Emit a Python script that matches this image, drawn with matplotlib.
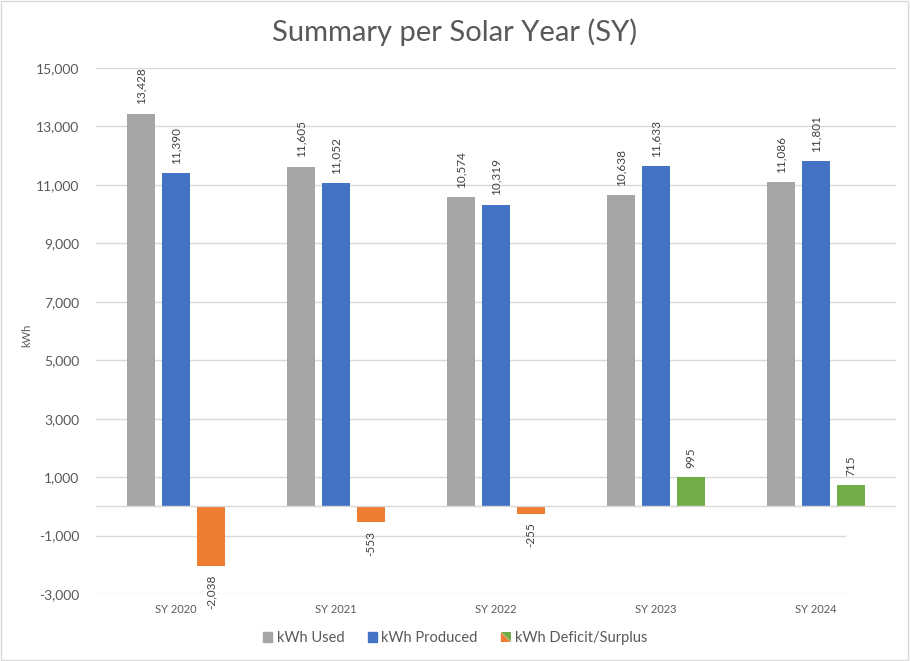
import numpy as np
import matplotlib
matplotlib.use("Agg")
import matplotlib.pyplot as plt
from matplotlib.patches import Polygon, Rectangle
from matplotlib.legend_handler import HandlerBase

plt.rcParams['font.family'] = ['Lato', 'DejaVu Sans']

years = ["SY 2020", "SY 2021", "SY 2022", "SY 2023", "SY 2024"]
used = [13428, 11605, 10574, 10638, 11086]
produced = [11390, 11052, 10319, 11633, 11801]
balance = [-2038, -553, -255, 995, 715]

GRAY = "#A5A5A5"
BLUE = "#4472C4"
ORANGE = "#ED7D31"
GREEN = "#70AD47"
TXT = "#595959"
GRID = "#D9D9D9"


class SplitHandler(HandlerBase):
    # legend square split diagonally: orange lower-left, green upper-right
    def create_artists(self, legend, orig_handle, xdescent, ydescent,
                       width, height, fontsize, trans):
        s = height
        x0 = width - s
        y0 = (height - s) / 2
        lo = Polygon([[x0, y0], [x0 + s, y0], [x0, y0 + s]], closed=True,
                     facecolor=ORANGE, edgecolor="none", transform=trans)
        hi = Polygon([[x0 + s, y0], [x0 + s, y0 + s], [x0, y0 + s]], closed=True,
                     facecolor=GREEN, edgecolor="none", transform=trans)
        return [lo, hi]


fig = plt.figure(figsize=(9.1, 6.61), dpi=100)
ax = fig.add_axes([96 / 910, 1 - 594 / 661, 800 / 910, 526 / 661])

x = np.arange(len(years))
w = 0.175
off = 0.219
bal_colors = [ORANGE if v < 0 else GREEN for v in balance]

b1 = ax.bar(x - off, used, w, color=GRAY, zorder=3)
b2 = ax.bar(x, produced, w, color=BLUE, zorder=3)
b3 = ax.bar(x + off, balance, w, color=bal_colors, zorder=3)

for bars, vals in [(b1, used), (b2, produced), (b3, balance)]:
    for r, v in zip(bars, vals):
        cx = r.get_x() + r.get_width() / 2
        if v >= 0:
            ax.annotate(f"{v:,}", (cx, v), xytext=(0, 7), textcoords="offset points",
                        rotation=90, ha="center", va="bottom", fontsize=8.5, color="#404040")
        else:
            ax.annotate(f"{v:,}", (cx, v), xytext=(0, -6), textcoords="offset points",
                        rotation=90, ha="center", va="top", fontsize=8.5, color="#404040")

ax.set_xlim(-0.5, len(years) - 0.5)
ax.set_ylim(-3000, 15000)
yt = np.arange(-3000, 15001, 2000)
ax.set_yticks(yt)
ax.set_yticklabels([f"{t:,}" for t in yt])
for t in yt:
    xm = 1.0 if t > 0 else 0.936
    ax.axhline(t, xmin=0, xmax=xm, color=GRID, lw=1, zorder=1)
ax.axhline(0, color=GRID, lw=1, zorder=4)

ax.set_xticks(x)
ax.set_xticklabels(years)
ax.tick_params(axis="x", length=0, pad=7, labelsize=8, labelcolor=TXT)
ax.tick_params(axis="y", length=0, pad=12, labelsize=10, labelcolor=TXT)
for sp in ax.spines.values():
    sp.set_visible(False)

fig.text(27 / 910, 1 - 335 / 661, "kWh", rotation=90, ha="center", va="center",
         fontsize=8, color=TXT)

fig.text(0.5, 1 - 32 / 661, "Summary per Solar Year (SY)", ha="center", va="center",
         fontsize=21, color=TXT)

h1 = Rectangle((0, 0), 1, 1, color=GRAY)
h2 = Rectangle((0, 0), 1, 1, color=BLUE)
h3 = object()
fig.legend([h1, h2, h3], ["kWh Used", "kWh Produced", "kWh Deficit/Surplus"],
           handler_map={object: SplitHandler()},
           loc="center", bbox_to_anchor=(0.5, 1 - 638 / 661), ncol=3, frameon=False,
           fontsize=10.5, labelcolor=TXT, handlelength=0.65, handleheight=0.65,
           handletextpad=0.3, columnspacing=1.6)

# chart border
fig.patches.append(Rectangle((0.001, 0.002), 0.997, 0.996, transform=fig.transFigure,
                             fill=False, edgecolor=GRID, lw=1))

fig.savefig("out.png", dpi=100)
